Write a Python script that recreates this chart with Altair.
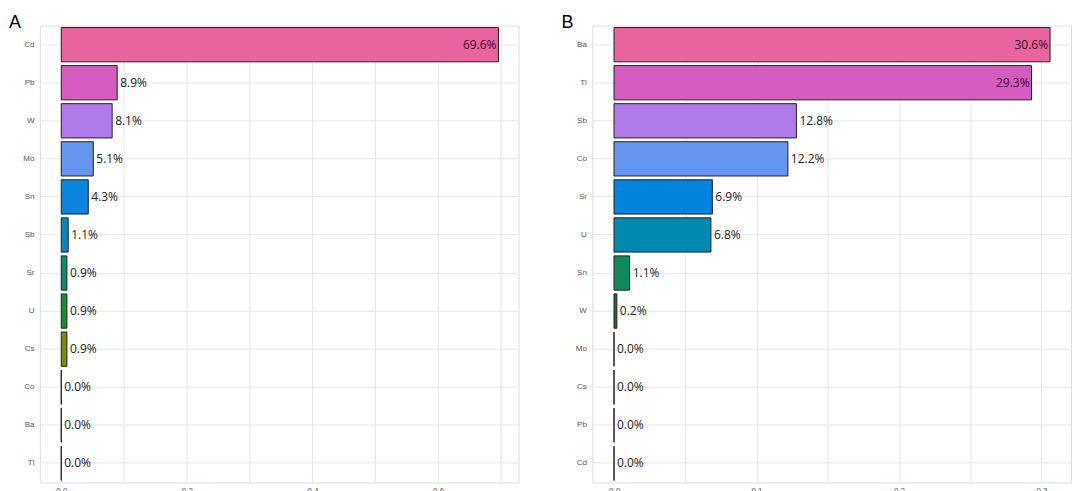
import altair as alt
import pandas as pd

elems_a = ["Cd", "Pb", "W", "Mo", "Sn", "Sb", "Sr", "U", "Cs", "Co", "Ba", "Tl"]
vals_a = [0.696, 0.089, 0.081, 0.051, 0.043, 0.011, 0.009, 0.009, 0.009, 0.0, 0.0, 0.0]
elems_b = ["Ba", "Tl", "Sb", "Co", "Sr", "U", "Sn", "W", "Mo", "Cs", "Pb", "Cd"]
vals_b = [0.306, 0.293, 0.128, 0.122, 0.069, 0.068, 0.011, 0.002, 0.0, 0.0, 0.0, 0.0]
colors_a = ["#E8649E", "#D65BC0", "#B07AE8", "#6495F0", "#0A84DD", "#1283B5",
            "#0E8A6A", "#1E8A30", "#7A8A10", "#333333", "#333333", "#333333"]
colors_b = ["#E8649E", "#D65BC0", "#B07AE8", "#6495F0", "#0084DE", "#0089B0",
            "#0E8A5E", "#1F6B3A", "#111111", "#333333", "#333333", "#333333"]


def panel(letter, elems, vals, colors, dom, grid_vals, step, inside_thr):
    df = pd.DataFrame({"e": elems, "v": vals, "c": colors,
                       "lab": [f"{v*100:.1f}%" for v in vals]})
    x = alt.X("v:Q", scale=alt.Scale(domain=dom, nice=False, zero=False),
              axis=alt.Axis(values=grid_vals, title=None, labelFontSize=8,
                            labelColor="#555", ticks=False, labelPadding=4,
                            gridColor="#e6e6e6", domain=False,
                            labelExpr=f"abs(datum.value/{step} - round(datum.value/{step})) < 0.001 ? format(datum.value, '.1f') : ''"))
    y = alt.Y("e:N", sort=elems,
              scale=alt.Scale(paddingInner=0.1, paddingOuter=0.05),
              axis=alt.Axis(title=None, labelFontSize=8, labelColor="#555",
                            ticks=False, labelPadding=6, gridColor="#e6e6e6",
                            grid=True, bandPosition=0.5, domain=False))
    base = alt.Chart(df)
    bars = base.mark_bar(stroke="#222", strokeWidth=1).encode(
        x=x, y=y, color=alt.Color("c:N", scale=None, legend=None))
    out = base.transform_filter(f"datum.v < {inside_thr}").mark_text(
        align="left", dx=3, fontSize=12, color="#222", font="Open Sans").encode(
        x="v:Q", y=alt.Y("e:N", sort=elems), text="lab:N")
    ins = base.transform_filter(f"datum.v >= {inside_thr}").mark_text(
        align="right", dx=-2, fontSize=12, color="#3a1030", font="Open Sans").encode(
        x="v:Q", y=alt.Y("e:N", sort=elems), text="lab:N")
    lt = base.transform_filter("datum.e == '%s'" % elems[0]).mark_text(
        text=letter, fontSize=18, align="left", baseline="top", color="#000",
        font="Liberation Sans").encode(x=alt.value(-31), y=alt.value(-12))
    return alt.layer(bars, out, ins, lt).properties(width=480, height=458)


a = panel("A", elems_a, vals_a, colors_a, [-0.034, 0.728],
          [0, 0.1, 0.2, 0.3, 0.4, 0.5, 0.6, 0.7], 0.2, 0.2)
b = panel("B", elems_b, vals_b, colors_b, [-0.0152, 0.3207],
          [0, 0.05, 0.1, 0.15, 0.2, 0.25, 0.3], 0.1, 0.2)

chart = alt.hconcat(a, b, spacing=41).properties(
    padding={"left": 0, "top": 4, "right": 0, "bottom": 0}).configure_view(
    stroke="#999", strokeWidth=1).configure(background="white")
chart.save("out.html", embed_options={"renderer": "svg", "actions": False})
